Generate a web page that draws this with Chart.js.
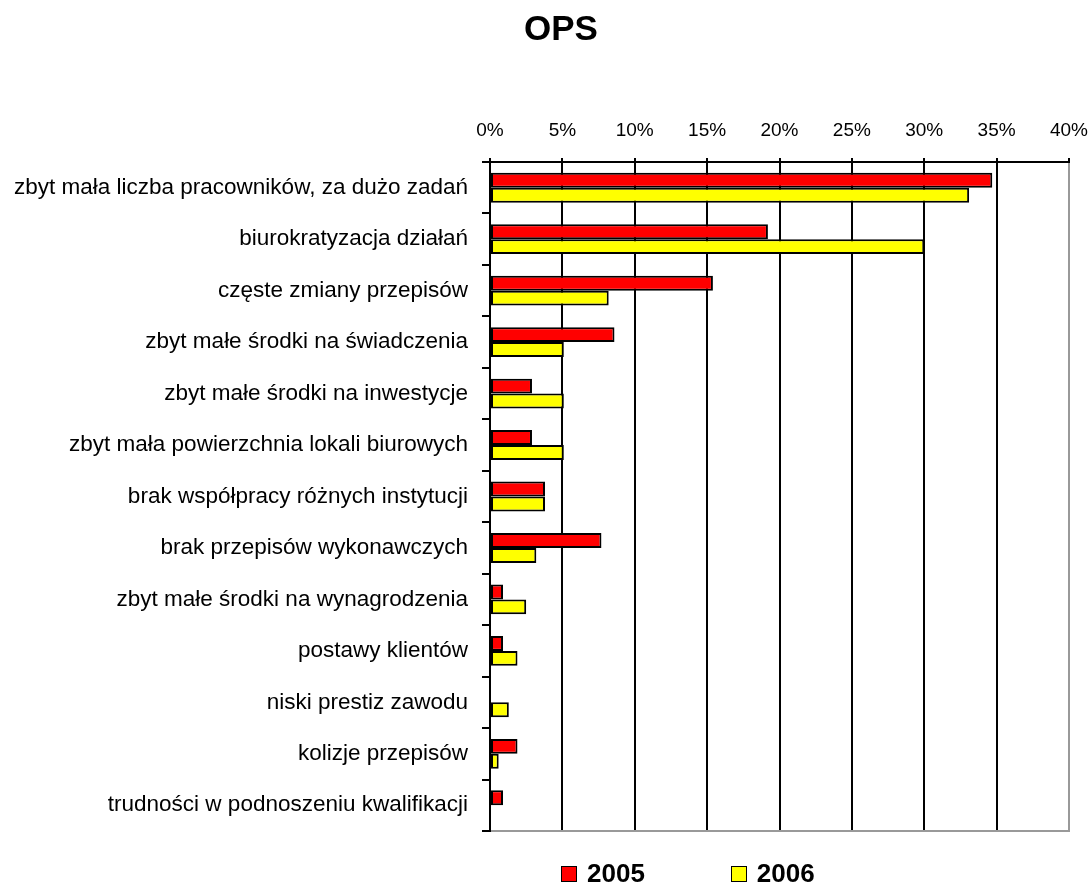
<!DOCTYPE html>
<html lang="pl">
<head>
<meta charset="utf-8">
<title>OPS</title>
<script src="https://cdn.jsdelivr.net/npm/chart.js@4.4.0/dist/chart.umd.min.js"></script>
<style>
  html, body { margin: 0; padding: 0; background: #fff; }
  #wrap { position: relative; width: 1089px; height: 885px; }
  #legenda {
    position: absolute; left: 561px; top: 859px; display: flex;
    font: bold 26px "Liberation Sans", Arial, sans-serif; line-height: 29px; color: #000;
  }
  #legenda .item { display: flex; align-items: center; margin-right: 86px; }
  #legenda .box { width: 14px; height: 14px; border: 1.5px solid #000; margin-right: 10px; }
</style>
</head>
<body>
<div id="wrap">
  <canvas id="wykres" width="1089" height="885"></canvas>
  <div id="legenda"></div>
</div>
<script>
// dane (w %)
const kategorie = [
    'zbyt mała liczba pracowników, za dużo zadań',
    'biurokratyzacja działań',
    'częste zmiany przepisów',
    'zbyt małe środki na świadczenia',
    'zbyt małe środki na inwestycje',
    'zbyt mała powierzchnia lokali biurowych',
    'brak współpracy różnych instytucji',
    'brak przepisów wykonawczych',
    'zbyt małe środki na wynagrodzenia',
    'postawy klientów',
    'niski prestiz zawodu',
    'kolizje przepisów',
    'trudności w podnoszeniu kwalifikacji'
];
const lata = ['2005', '2006'];
const dane2005 = [34.7, 19.2, 15.4, 8.6, 2.9, 2.9, 3.8, 7.7, 0.9, 0.9, 0, 1.9, 0.9];
const dane2006 = [33.1, 30.0, 8.2, 5.1, 5.1, 5.1, 3.8, 3.2, 2.5, 1.9, 1.3, 0.6, 0];
const etykietyOsi = ['0%', '5%', '10%', '15%', '20%', '25%', '30%', '35%', '40%'];

Chart.defaults.font.family = '"Liberation Sans", Arial, sans-serif';
Chart.defaults.color = '#000';

// tytuł przesunięty lekko w prawo, jak w oryginale
const przesunTytul = {
    id: 'przesunTytul',
    afterLayout(chart) {
        if (chart.titleBlock) {
            chart.titleBlock.left += 33;
        }
    }
};

const ctx = document.getElementById('wykres').getContext('2d');

const wykres = new Chart(ctx, {
    type: 'bar',
    data: {
        labels: kategorie,
        datasets: [
            {
                label: lata[0],
                data: dane2005,
                backgroundColor: '#ff0000',
                borderColor: '#000',
                borderWidth: 2,
                borderSkipped: false
            },
            {
                label: lata[1],
                data: dane2006,
                backgroundColor: '#ffff00',
                borderColor: '#000',
                borderWidth: 2,
                borderSkipped: false
            }
        ]
    },
    options: {
        indexAxis: 'y',
        responsive: false,
        animation: false,
        datasets: {
            bar: { categoryPercentage: 0.58, barPercentage: 1.0 }
        },
        layout: {
            padding: { left: 0, right: 0, top: 0, bottom: 54 }
        },
        plugins: {
            legend: { display: false },
            tooltip: { enabled: false },
            title: {
                display: true,
                text: 'OPS',
                font: { size: 35, weight: 'bold' },
                padding: { top: 9, bottom: 0 }
            }
        },
        scales: {
            x: {
                type: 'linear',
                position: 'top',
                min: 0,
                max: 40,
                ticks: {
                    stepSize: 5,
                    padding: 16,
                    font: { size: 19 },
                    callback: function (v, i) { return etykietyOsi[i]; }
                },
                grid: {
                    color: function (c) { return c.tick && c.tick.value === 40 ? '#999' : '#000'; },
                    tickColor: '#000',
                    lineWidth: 2,
                    tickLength: 4
                },
                border: { color: '#000', width: 2 },
                afterFit: function (s) { s.height = 111; s.paddingRight = 20; }
            },
            x2: {
                type: 'linear',
                position: 'bottom',
                min: 0,
                max: 40,
                display: true,
                grid: { display: false },
                ticks: { display: false },
                border: { color: '#999', width: 2 },
                afterFit: function (s) { s.height = 0; s.paddingRight = 0; s.paddingLeft = 0; }
            },
            y: {
                ticks: {
                    padding: 14,
                    font: { size: 22.5 }
                },
                grid: {
                    drawOnChartArea: false,
                    color: '#000',
                    lineWidth: 2,
                    tickLength: 8
                },
                border: { color: '#000', width: 2 },
                afterFit: function (s) { s.width = 490; }
            }
        }
    },
    plugins: [przesunTytul]
});

// legenda w HTML (rozstaw jak w oryginale)
const legenda = document.getElementById('legenda');
wykres.data.datasets.forEach(ds => {
    const item = document.createElement('div');
    item.className = 'item';
    const box = document.createElement('span');
    box.className = 'box';
    box.style.background = ds.backgroundColor;
    const txt = document.createElement('span');
    txt.textContent = ds.label;
    item.appendChild(box);
    item.appendChild(txt);
    legenda.appendChild(item);
});
</script>
</body>
</html>
